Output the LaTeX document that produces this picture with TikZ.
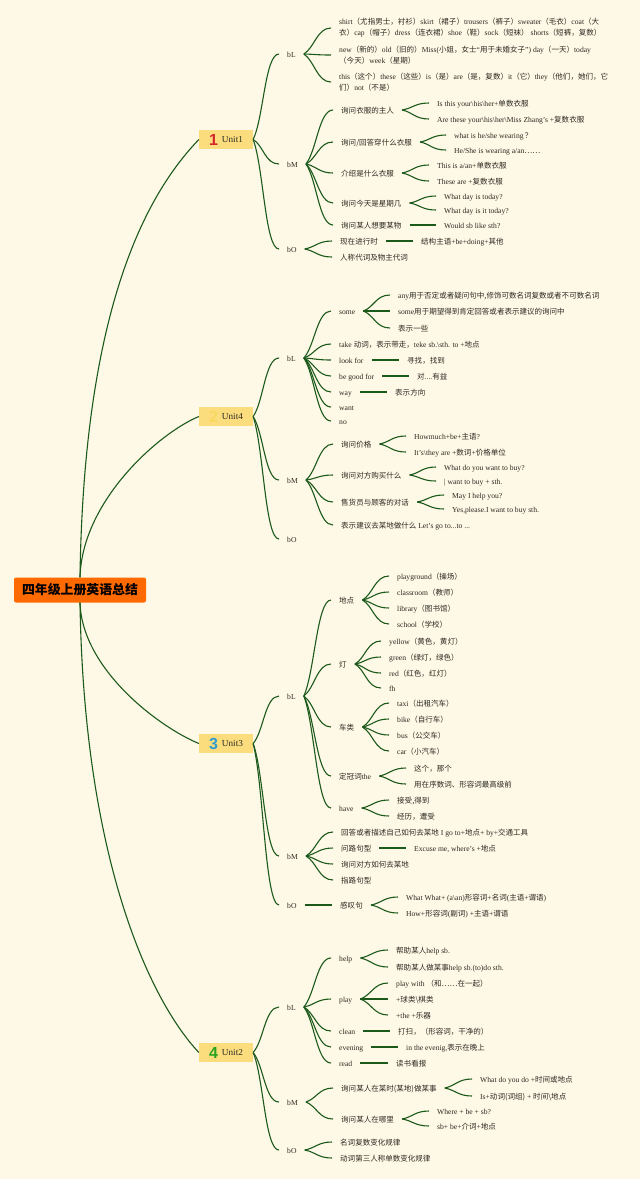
\documentclass[tikz,border=0pt]{standalone}
\usepackage{fontspec}
\usepackage{tikz}
\usetikzlibrary{positioning, calc}
\setmainfont{Liberation Serif}
\newfontfamily\cjk[Scale=0.99]{Noto Sans CJK SC}
\newfontfamily\digits{Liberation Sans}
\newcommand{\zh}[1]{{\cjk #1}}
\newcommand{\badge}[2]{\raisebox{-2.5pt}{\fontsize{16}{16}\digits\bfseries\textcolor{#1}{#2}}}
\definecolor{bgcream}{HTML}{FEF8E6}
\definecolor{linegreen}{HTML}{1C5A1C}
\definecolor{inkgrey}{HTML}{2B2B22}
\definecolor{unitfill}{HTML}{FBDD7E}
\definecolor{rootfill}{HTML}{FF6A00}
\definecolor{badgered}{HTML}{D7262B}
\definecolor{badgeyellow}{HTML}{F9D860}
\definecolor{badgeblue}{HTML}{2E9BD1}
\definecolor{badgegreen}{HTML}{27A322}
\tikzset{
  leaf/.style={anchor=west, inner xsep=8pt, inner ysep=1pt, align=left, text=inkgrey,
    text height=8.5pt, text depth=2pt, font=\fontsize{7.6}{11}\selectfont},
  para/.style={leaf, text height=, text depth=},
  unitbox/.style={fill=unitfill, inner xsep=10pt, inner ysep=0pt, minimum height=19pt,
    text=inkgrey, font=\fontsize{9.2}{11}\selectfont},
  branch/.style={draw=linegreen, line width=1.1pt},
  fork/.style={to path={.. controls ($(\tikztostart)!0.25!(\tikztotarget)+(4,0)$) and
    ($(\tikztotarget)+(-14,0)$) .. (\tikztotarget)}},
}

\begin{document}
\begin{tikzpicture}[x=1pt, y=-1pt]
  \useasboundingbox (0,0) rectangle (640,1179);
  \fill[bgcream] (0,0) rectangle (640,1179);

  \node (root) [fill=rootfill, rounded corners=2pt, minimum width=132pt, minimum height=25pt,
    inner sep=0pt, font=\fontsize{13}{16}\selectfont\bfseries] at (80,590)
    {\cjk 四年级上册英语总结};

  % Unit1
  \node (u1) [unitbox] at (226,139.5) {\badge{badgered}{1}\hspace{4pt}Unit1};
  \node (u1L) [leaf] at (279,54) {bL};
  \node (u1M) [leaf] at (279,164) {bM};
  \node (u1O) [leaf] at (279,249) {bO};
  \node (u1La) [para] at (331,28) {shirt\zh{（尤指男士，衬衫）}skirt\zh{（裙子）}trousers\zh{（裤子）}sweater\zh{（毛衣）}coat\zh{（大}\\\zh{衣）}cap\zh{（帽子）}dress\zh{（连衣裙）}shoe\zh{（鞋）}sock\zh{（短袜）} shorts\zh{（短裤，复数）}};
  \node (u1Lb) [para] at (331,55) {new\zh{（新的）}old\zh{（旧的）}Miss(\zh{小姐，女士}“\zh{用于未婚女子}”) day\zh{（一天）}today\\\zh{（今天）}week\zh{（星期）}};
  \node (u1Lc) [para] at (331,82) {this\zh{（这个）}these\zh{（这些）}is\zh{（是）}are\zh{（是，复数）}it\zh{（它）}they\zh{（他们，她们，它}\\\zh{们）}not\zh{（不是）}};
  \node (u1Ma) [leaf] at (333,110) {\zh{询问衣服的主人}};
  \node (u1Mb) [leaf] at (333,142) {\zh{询问/回答穿什么衣服}};
  \node (u1Mc) [leaf] at (333,173) {\zh{介绍是什么衣服}};
  \node (u1Md) [leaf] at (333,203) {\zh{询问今天是星期几}};
  \node (u1Me) [leaf] at (333,225) {\zh{询问某人想要某物}};
  \node (u1Oa) [leaf] at (332,241) {\zh{现在进行时}};
  \node (u1Ob) [leaf] at (332,257) {\zh{人称代词及物主代词}};
  \node (u1Ma1) [leaf] at (429,103) {Is this your\textbackslash his\textbackslash her+\zh{单数衣服}};
  \node (u1Ma2) [leaf] at (429,119) {Are these your\textbackslash his\textbackslash her\textbackslash Miss Zhang's +\zh{复数衣服}};
  \node (u1Mb1) [leaf] at (446,135) {what is he/she wearing\,\zh{？}};
  \node (u1Mb2) [leaf] at (446,150) {He/She is wearing a/an\zh{……}};
  \node (u1Mc1) [leaf] at (429,165) {This is a/an+\zh{单数衣服}};
  \node (u1Mc2) [leaf] at (429,181) {These are +\zh{复数衣服}};
  \node (u1Md1) [leaf] at (436,196) {What day is today?};
  \node (u1Md2) [leaf] at (436,210) {What day is it today?};
  \node (u1Me1) [leaf] at (436,225) {Would sb like sth?};
  \node (u1Oa1) [leaf] at (413,241) {\zh{结构主语}+be+doing+\zh{其他}};

  \draw (root.north) [branch] .. controls +(4,-277) and +(-49,51) .. (u1.west);
  \foreach \kid in {u1L, u1M, u1O} \draw[branch] (u1.east) to[fork] (\kid.west);
  \foreach \kid in {u1La, u1Lb, u1Lc} \draw[branch] (u1L.east) to[fork] (\kid.west);
  \foreach \kid in {u1Ma, u1Mb, u1Mc, u1Md, u1Me} \draw[branch] (u1M.east) to[fork] (\kid.west);
  \foreach \kid in {u1Oa, u1Ob} \draw[branch] (u1O.east) to[fork] (\kid.west);
  \foreach \kid in {u1Ma1, u1Ma2} \draw[branch] (u1Ma.east) to[fork] (\kid.west);
  \foreach \kid in {u1Mb1, u1Mb2} \draw[branch] (u1Mb.east) to[fork] (\kid.west);
  \foreach \kid in {u1Mc1, u1Mc2} \draw[branch] (u1Mc.east) to[fork] (\kid.west);
  \foreach \kid in {u1Md1, u1Md2} \draw[branch] (u1Md.east) to[fork] (\kid.west);
  \draw[branch] (u1Me.east) -- (u1Me1.west);
  \draw[branch] (u1Oa.east) -- (u1Oa1.west);

  % Unit4
  \node (u4) [unitbox] at (226,416.5) {\badge{badgeyellow}{2}\hspace{4pt}Unit4};
  \node (u4L) [leaf] at (279,358) {bL};
  \node (u4M) [leaf] at (279,480) {bM};
  \node (u4O) [leaf] at (279,539) {bO};
  \node (u4La) [leaf] at (331,311) {some};
  \node (u4Lb) [leaf] at (331,344) {take \zh{动词，表示带走，}teke sb.\textbackslash sth. to +\zh{地点}};
  \node (u4Lc) [leaf] at (331,360) {look for};
  \node (u4Ld) [leaf] at (331,376) {be good for};
  \node (u4Le) [leaf] at (331,392) {way};
  \node (u4Lf) [leaf] at (331,407) {want};
  \node (u4Lg) [leaf] at (331,421) {no};
  \node (u4La1) [leaf] at (390,295) {any\zh{用于否定或者疑问句中,修饰可数名词复数或者不可数名词}};
  \node (u4La2) [leaf] at (390,311) {some\zh{用于期望得到肯定回答或者表示建议的询问中}};
  \node (u4La3) [leaf] at (390,328) {\zh{表示一些}};
  \node (u4Lc1) [leaf] at (399,360) {\zh{寻找，找到}};
  \node (u4Ld1) [leaf] at (409,376) {\zh{对}....\zh{有益}};
  \node (u4Le1) [leaf] at (387,392) {\zh{表示方向}};
  \node (u4Ma) [leaf] at (333,444) {\zh{询问价格}};
  \node (u4Mb) [leaf] at (333,475) {\zh{询问对方购买什么}};
  \node (u4Mc) [leaf] at (333,502) {\zh{售货员与顾客的对话}};
  \node (u4Md) [leaf] at (333,525) {\zh{表示建议去某地做什么} Let's go to...to ...};
  \node (u4Ma1) [leaf] at (406,436) {Howmuch+be+\zh{主语}?};
  \node (u4Ma2) [leaf] at (406,452) {It's\textbackslash they are +\zh{数词}+\zh{价格单位}};
  \node (u4Mb1) [leaf] at (436,467) {What do you want to buy?};
  \node (u4Mb2) [leaf] at (436,481) {| want to buy + sth.};
  \node (u4Mc1) [leaf] at (444,495) {May I help you?};
  \node (u4Mc2) [leaf] at (444,509) {Yes,please.I want to buy sth.};

  \draw (root.north) [branch] .. controls +(2,-77) and +(-39,16) .. (u4.west);
  \foreach \kid in {u4L, u4M, u4O} \draw[branch] (u4.east) to[fork] (\kid.west);
  \foreach \kid in {u4La, u4Lb, u4Lc, u4Ld, u4Le, u4Lf, u4Lg} \draw[branch] (u4L.east) to[fork] (\kid.west);
  \foreach \kid in {u4La1, u4La2, u4La3} \draw[branch] (u4La.east) to[fork] (\kid.west);
  \draw[branch] (u4Lc.east) -- (u4Lc1.west);
  \draw[branch] (u4Ld.east) -- (u4Ld1.west);
  \draw[branch] (u4Le.east) -- (u4Le1.west);
  \foreach \kid in {u4Ma, u4Mb, u4Mc, u4Md} \draw[branch] (u4M.east) to[fork] (\kid.west);
  \foreach \kid in {u4Ma1, u4Ma2} \draw[branch] (u4Ma.east) to[fork] (\kid.west);
  \foreach \kid in {u4Mb1, u4Mb2} \draw[branch] (u4Mb.east) to[fork] (\kid.west);
  \foreach \kid in {u4Mc1, u4Mc2} \draw[branch] (u4Mc.east) to[fork] (\kid.west);

  % Unit3
  \node (u3) [unitbox] at (226,743.5) {\badge{badgeblue}{3}\hspace{4pt}Unit3};
  \node (u3L) [leaf] at (279,696) {bL};
  \node (u3M) [leaf] at (279,856) {bM};
  \node (u3O) [leaf] at (279,905) {bO};
  \node (u3La) [leaf] at (331,600) {\zh{地点}};
  \node (u3Lb) [leaf] at (331,664) {\zh{灯}};
  \node (u3Lc) [leaf] at (331,727) {\zh{车类}};
  \node (u3Ld) [leaf] at (331,776) {\zh{定冠词}the};
  \node (u3Le) [leaf] at (331,808) {have};
  \node (u3La1) [leaf] at (389,576) {playground\zh{（操场）}};
  \node (u3La2) [leaf] at (389,592) {classroom\zh{（教师）}};
  \node (u3La3) [leaf] at (389,608) {library\zh{（图书馆）}};
  \node (u3La4) [leaf] at (389,624) {school\zh{（学校）}};
  \node (u3Lb1) [leaf] at (381,641) {yellow\zh{（黄色，黄灯）}};
  \node (u3Lb2) [leaf] at (381,657) {green\zh{（绿灯，绿色）}};
  \node (u3Lb3) [leaf] at (381,673) {red\zh{（红色，红灯）}};
  \node (u3Lb4) [leaf] at (381,688) {fh};
  \node (u3Lc1) [leaf] at (389,703) {taxi\zh{（出租汽车）}};
  \node (u3Lc2) [leaf] at (389,719) {bike\zh{（自行车）}};
  \node (u3Lc3) [leaf] at (389,735) {bus\zh{（公交车）}};
  \node (u3Lc4) [leaf] at (389,751) {car\zh{（小汽车）}};
  \node (u3Ld1) [leaf] at (406,768) {\zh{这个，那个}};
  \node (u3Ld2) [leaf] at (406,784) {\zh{用在序数词、形容词最高级前}};
  \node (u3Le1) [leaf] at (389,800) {\zh{接受,得到}};
  \node (u3Le2) [leaf] at (389,816) {\zh{经历，遭受}};
  \node (u3Ma) [leaf] at (333,832) {\zh{回答或者描述自己如何去某地} I go to+\zh{地点}+ by+\zh{交通工具}};
  \node (u3Mb) [leaf] at (333,848) {\zh{问路句型}};
  \node (u3Mc) [leaf] at (333,864) {\zh{询问对方如何去某地}};
  \node (u3Md) [leaf] at (333,880) {\zh{指路句型}};
  \node (u3Mb1) [leaf] at (406,848) {Excuse me, where's +\zh{地点}};
  \node (u3Oa) [leaf] at (332,905) {\zh{感叹句}};
  \node (u3Oa1) [leaf] at (398,897) {What What+ (a\textbackslash an)\zh{形容词}+\zh{名词}(\zh{主语}+\zh{谓语})};
  \node (u3Oa2) [leaf] at (398,913) {How+\zh{形容词}(\zh{副词}) +\zh{主语}+\zh{谓语}};

  \draw (root.south) [branch] .. controls +(2,67) and +(-39,-16) .. (u3.west);
  \foreach \kid in {u3L, u3M, u3O} \draw[branch] (u3.east) to[fork] (\kid.west);
  \foreach \kid in {u3La, u3Lb, u3Lc, u3Ld, u3Le} \draw[branch] (u3L.east) to[fork] (\kid.west);
  \foreach \kid in {u3La1, u3La2, u3La3, u3La4} \draw[branch] (u3La.east) to[fork] (\kid.west);
  \foreach \kid in {u3Lb1, u3Lb2, u3Lb3, u3Lb4} \draw[branch] (u3Lb.east) to[fork] (\kid.west);
  \foreach \kid in {u3Lc1, u3Lc2, u3Lc3, u3Lc4} \draw[branch] (u3Lc.east) to[fork] (\kid.west);
  \foreach \kid in {u3Ld1, u3Ld2} \draw[branch] (u3Ld.east) to[fork] (\kid.west);
  \foreach \kid in {u3Le1, u3Le2} \draw[branch] (u3Le.east) to[fork] (\kid.west);
  \foreach \kid in {u3Ma, u3Mb, u3Mc, u3Md} \draw[branch] (u3M.east) to[fork] (\kid.west);
  \draw[branch] (u3Mb.east) -- (u3Mb1.west);
  \draw[branch] (u3O.east) -- (u3Oa.west);
  \foreach \kid in {u3Oa1, u3Oa2} \draw[branch] (u3Oa.east) to[fork] (\kid.west);

  % Unit2
  \node (u2) [unitbox] at (226,1052.5) {\badge{badgegreen}{4}\hspace{4pt}Unit2};
  \node (u2L) [leaf] at (279,1007) {bL};
  \node (u2M) [leaf] at (279,1102) {bM};
  \node (u2O) [leaf] at (279,1150) {bO};
  \node (u2La) [leaf] at (331,958) {help};
  \node (u2Lb) [leaf] at (331,999) {play};
  \node (u2Lc) [leaf] at (331,1031) {clean};
  \node (u2Ld) [leaf] at (331,1047) {evening};
  \node (u2Le) [leaf] at (331,1063) {read};
  \node (u2La1) [leaf] at (388,950) {\zh{帮助某人}help sb.};
  \node (u2La2) [leaf] at (388,967) {\zh{帮助某人做某事}help sb.(to)do sth.};
  \node (u2Lb1) [leaf] at (388,983) {play with \zh{（和……在一起）}};
  \node (u2Lb2) [leaf] at (388,999) {+\zh{球类\textbackslash 棋类}};
  \node (u2Lb3) [leaf] at (388,1015) {+the +\zh{乐器}};
  \node (u2Lc1) [leaf] at (390,1031) {\zh{打扫，（形容词，干净的）}};
  \node (u2Ld1) [leaf] at (398,1047) {in the evenig,\zh{表示在晚上}};
  \node (u2Le1) [leaf] at (388,1063) {\zh{读书看报}};
  \node (u2Ma) [leaf] at (333,1088) {\zh{询问某人在某时(某地)做某事}};
  \node (u2Mb) [leaf] at (333,1119) {\zh{询问某人在哪里}};
  \node (u2Ma1) [leaf] at (472,1079) {What do you do +\zh{时间或地点}};
  \node (u2Ma2) [leaf] at (472,1096) {Is+\zh{动词(词组)} + \zh{时间\textbackslash 地点}};
  \node (u2Mb1) [leaf] at (429,1111) {Where + be + sb?};
  \node (u2Mb2) [leaf] at (429,1126) {sb+ be+\zh{介词}+\zh{地点}};
  \node (u2Oa) [leaf] at (332,1142) {\zh{名词复数变化规律}};
  \node (u2Ob) [leaf] at (332,1158) {\zh{动词第三人称单数变化规律}};

  \draw (root.south) [branch] .. controls +(4,257) and +(-49,-52) .. (u2.west);
  \foreach \kid in {u2L, u2M, u2O} \draw[branch] (u2.east) to[fork] (\kid.west);
  \foreach \kid in {u2La, u2Lb, u2Lc, u2Ld, u2Le} \draw[branch] (u2L.east) to[fork] (\kid.west);
  \foreach \kid in {u2La1, u2La2} \draw[branch] (u2La.east) to[fork] (\kid.west);
  \foreach \kid in {u2Lb1, u2Lb2, u2Lb3} \draw[branch] (u2Lb.east) to[fork] (\kid.west);
  \draw[branch] (u2Lc.east) -- (u2Lc1.west);
  \draw[branch] (u2Ld.east) -- (u2Ld1.west);
  \draw[branch] (u2Le.east) -- (u2Le1.west);
  \foreach \kid in {u2Ma, u2Mb} \draw[branch] (u2M.east) to[fork] (\kid.west);
  \foreach \kid in {u2Ma1, u2Ma2} \draw[branch] (u2Ma.east) to[fork] (\kid.west);
  \foreach \kid in {u2Mb1, u2Mb2} \draw[branch] (u2Mb.east) to[fork] (\kid.west);
  \foreach \kid in {u2Oa, u2Ob} \draw[branch] (u2O.east) to[fork] (\kid.west);
\end{tikzpicture}
\end{document}
